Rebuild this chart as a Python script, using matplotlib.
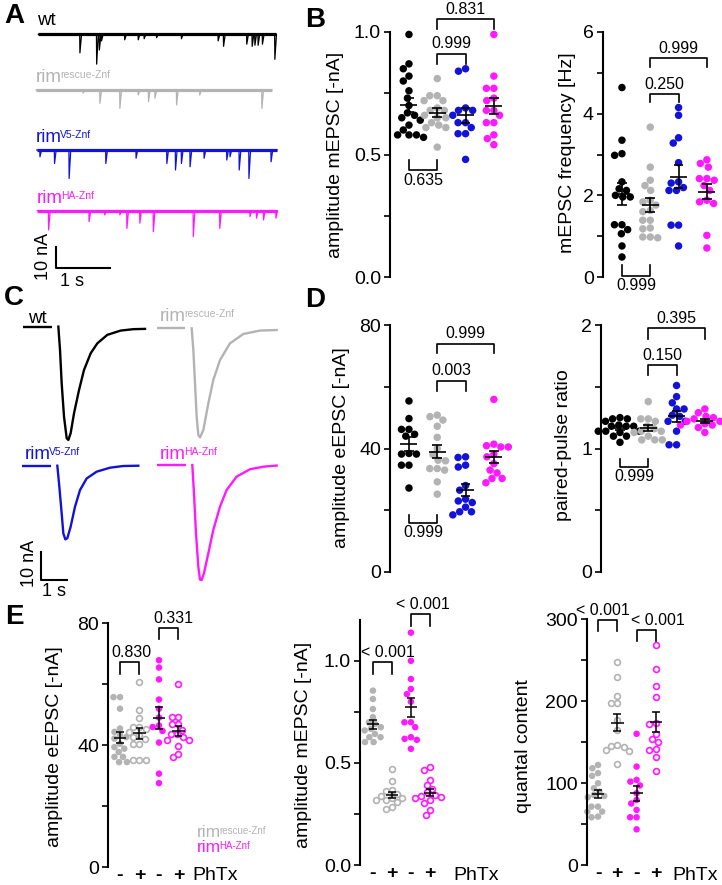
import numpy as np
import matplotlib

matplotlib.use("Agg")
import matplotlib.pyplot as plt  # noqa: E402

W, H = 722, 885
plt.rcParams["font.family"] = ["Liberation Sans", "DejaVu Sans"]

BLACK, GRAY, BLUE, MAGENTA = "#000000", "#b3b3b3", "#1212d8", "#ff19ff"

# ---------------------------------------------------------------- data ----
# A: example mEPSC traces, events as (time [s], amplitude [nA])
A_WT_T = [0.77, 1.08, 1.13, 1.17, 1.60, 1.85, 1.96, 2.19, 2.65, 3.33, 3.43, 3.86, 3.96, 4.01, 4.07, 4.15, 4.38]
A_WT_AMP = [8.5, 13.7, 7.2, 3.0, 2.5, 2.5, 2.0, 1.5, 2.0, 3.0, 5.5, 4.5, 5.5, 5.0, 5.0, 4.5, 11.5]
A_RESCUE_T = [0.83, 1.14, 1.51, 1.85, 2.04, 2.16, 2.56, 2.99, 4.14]
A_RESCUE_AMP = [1.5, 6.2, 8.5, 2.3, 5.4, 3.8, 6.9, 2.3, 8.5]
A_V5_T = [0.03, 0.30, 0.57, 1.25, 1.81, 2.38, 2.54, 2.65, 2.81, 3.07, 3.49, 3.55, 3.72, 3.90, 4.31]
A_V5_AMP = [3.1, 6.2, 13.1, 6.2, 3.8, 6.2, 9.2, 6.2, 7.7, 3.8, 4.6, 3.1, 9.2, 13.1, 5.4]
A_HA_T = [0.19, 0.94, 1.23, 1.51, 1.64, 1.88, 2.13, 2.87, 3.36, 3.92, 4.04, 4.17, 4.40]
A_HA_AMP = [8.9, 5.1, 2.0, 2.0, 8.2, 5.8, 9.7, 12.0, 8.2, 2.8, 3.5, 4.3, 3.5]

# C: example eEPSC traces (time [s], current [nA])
C_WT_T = [0, 0.064, 0.128, 0.218, 0.321, 0.385, 0.474, 0.603, 0.795, 0.987, 1.244, 1.5, 1.885, 2.397, 2.885, 3.333]
C_WT_I = [0, -8.2, -20.0, -31.8, -39.4, -40.0, -37.6, -30.6, -22.4, -15.3, -9.4, -5.9, -2.9, -1.4, -0.9, -0.8]
C_RESCUE_T = [0, 0.064, 0.128, 0.192, 0.256, 0.321, 0.449, 0.641, 0.833, 1.09, 1.474, 1.987, 2.628, 3.269]
C_RESCUE_I = [0, -7.6, -19.4, -31.2, -37.6, -38.5, -35.9, -26.5, -18.2, -11.2, -5.3, -2.0, -0.8, -0.6]
C_V5_T = [0, 0.077, 0.167, 0.231, 0.308, 0.385, 0.513, 0.679, 0.872, 1.128, 1.513, 2.026, 2.538, 3.115]
C_V5_I = [0, -7.4, -16.8, -23.9, -26.0, -25.6, -21.5, -14.5, -8.6, -4.5, -2.1, -0.7, -0.1, 0]
C_HA_T = [0, 0.064, 0.141, 0.231, 0.295, 0.359, 0.449, 0.615, 0.808, 1.064, 1.321, 1.705, 2.218, 2.731, 3.244]
C_HA_I = [0, -10.0, -24.1, -35.9, -40.4, -40.6, -38.2, -31.2, -22.9, -14.7, -8.8, -4.1, -1.5, -0.6, -0.2]

# B: mEPSC amplitude [-nA] and frequency [Hz]
B_AMP_WT = [0.99, 0.87, 0.85, 0.82, 0.80, 0.76, 0.73, 0.70, 0.66, 0.67, 0.65, 0.64, 0.62, 0.60, 0.58, 0.58, 0.57, 0.58]
B_AMP_RESCUE = [0.81, 0.74, 0.74, 0.72, 0.72, 0.69, 0.68, 0.68, 0.66, 0.65, 0.65, 0.63, 0.61, 0.61, 0.53, 0.62]
B_AMP_V5 = [0.84, 0.85, 0.68, 0.69, 0.68, 0.66, 0.63, 0.63, 0.585, 0.585, 0.61, 0.48]
B_AMP_HA = [0.99, 0.82, 0.77, 0.77, 0.73, 0.72, 0.68, 0.68, 0.66, 0.63, 0.63, 0.58, 0.565, 0.54]
B_FREQ_WT = [4.64, 3.35, 2.98, 3.02, 2.33, 2.16, 2.12, 2.0, 1.96, 1.96, 1.28, 1.28, 1.06, 1.16, 0.76, 0.49]
B_FREQ_RESCUE = [3.67, 2.69, 2.37, 2.24, 2.12, 1.88, 1.84, 1.76, 1.63, 1.6, 1.39, 1.39, 1.18, 0.96, 0.98, 0.98, 1.2]
B_FREQ_V5 = [4.15, 3.96, 3.41, 3.28, 2.8, 2.33, 2.3, 2.19, 2.12, 2.12, 1.27, 1.27, 0.76]
B_FREQ_HA = [2.87, 2.78, 2.69, 2.41, 2.41, 2.37, 2.24, 2.12, 1.88, 1.84, 1.8, 1.02, 0.71]

# D: eEPSC amplitude [-nA] and paired-pulse ratio
D_AMP_WT = [55.4, 49.7, 46.2, 46.2, 44.0, 44.6, 38.4, 38.2, 38.2, 34.6, 34.6, 27.2]
D_AMP_RESCUE = [50.8, 50.3, 49.2, 47.2, 43.6, 40.0, 38.0, 36.0, 36.2, 33.5, 33.5, 33.0, 29.2, 25.2]
D_AMP_V5 = [37.1, 37.3, 34.0, 34.6, 28.0, 26.5, 23.0, 22.5, 23.6, 21.0, 19.5, 19.5, 18.5]
D_AMP_HA = [55.9, 40.9, 41.4, 40.5, 40.5, 38.2, 37.3, 35.1, 33.0, 32.1, 30.3, 30.3, 28.9]
D_PPR_WT = [1.22, 1.24, 1.24, 1.25, 1.18, 1.18, 1.19, 1.18, 1.14, 1.14, 1.13, 1.14, 1.10, 1.10, 1.05]
D_PPR_RESCUE = [1.38, 1.24, 1.24, 1.22, 1.18, 1.16, 1.14, 1.13, 1.14, 1.07, 1.07, 1.07, 1.10]
D_PPR_V5 = [1.51, 1.42, 1.37, 1.32, 1.32, 1.26, 1.27, 1.22, 1.22, 1.14, 1.03, 1.03]
D_PPR_HA = [1.32, 1.29, 1.26, 1.25, 1.22, 1.22, 1.24, 1.19, 1.19, 1.19, 1.13, 1.20, 1.17]

# E: PhTx (- / +) for rescue and HA
E_EPSC_RESCUE = [55.7, 55.7, 51.9, 45.4, 44.3, 43.2, 42.6, 42.1, 40.4, 39.3, 38.8, 37.7, 36.1, 36.1, 34.4, 34.4]
E_EPSC_RESCUE_PHTX = [60.7, 51.6, 49.0, 45.9, 45.4, 44.3, 43.2, 42.1, 42.6, 40.4, 40.4, 35.0, 35.0, 35.0, 46.0]
E_EPSC_HA = [67.8, 65.4, 61.5, 54.9, 51.9, 49.0, 46.4, 44.6, 45.9, 40.8, 30.6, 27.5]
E_EPSC_HA_PHTX = [60.1, 49.2, 49.2, 46.8, 46.8, 43.5, 43.5, 42.6, 41.7, 41.7, 39.6, 36.1, 37.2, 45.0]
E_MINI_RESCUE = [0.854, 0.813, 0.764, 0.724, 0.691, 0.699, 0.675, 0.659, 0.667, 0.642, 0.626, 0.626, 0.602, 0.602]
E_MINI_RESCUE_PHTX = [0.468, 0.41, 0.369, 0.363, 0.35, 0.33, 0.33, 0.34, 0.317, 0.309, 0.32, 0.285, 0.276]
E_MINI_HA = [1.138, 1.0, 0.911, 0.862, 0.837, 0.80, 0.699, 0.699, 0.675, 0.618, 0.626, 0.613, 0.569]
E_MINI_HA_PHTX = [0.463, 0.48, 0.418, 0.39, 0.374, 0.333, 0.358, 0.345, 0.317, 0.304, 0.268, 0.244, 0.34, 0.33]
E_QC_RESCUE = [122, 118, 108.7, 112, 99.7, 93.6, 89.5, 85.5, 82.6, 84.2, 71.2, 71.2, 65.1, 65.1, 58.2, 59]
E_QC_RESCUE_PHTX = [248, 229, 205.5, 197.4, 197.4, 177, 146.5, 145.3, 144.5, 139.6, 140.0, 123.3, 165.0]
E_QC_HA = [160, 120, 103.8, 101.7, 97, 87.5, 79.4, 75, 67.2, 58.2, 58.2, 43.5]
E_QC_HA_PHTX = [267.8, 239, 218.6, 204.7, 173, 172, 160, 153.4, 150.6, 140.4, 141.2, 132.3, 114.8]

E_TICKS = ["-", "+", "-", "+"]

# p-values: (group a, group b, bar height, leg, label, text shift px); leg < 0 -> bracket below
B_AMP_P = [(1, 3, 1.054, 0.04, "0.831", 0), (1, 2, 0.912, 0.041, "0.999", 0), (0, 1, 0.435, -0.044, "0.635", 0)]
B_FREQ_P = [(1, 3, 5.37, 0.23, "0.999", 0), (1, 2, 4.49, 0.2, "0.250", 0), (0, 1, 0.02, -0.27, "0.999", 0)]
D_AMP_P = [(1, 3, 74, 3, "0.999", 0), (1, 2, 62, 3.3, "0.003", 0), (0, 1, 15.9, -2.5, "0.999", 0)]
D_PPR_P = [(1, 3, 1.973, 0.09, "0.395", 0), (1, 2, 1.676, 0.08, "0.150", 0), (0, 1, 0.851, -0.068, "0.999", 0)]
E_EPSC_P = [(0, 1, 67.2, 3.8, "0.830", 2), (2, 3, 78.4, 3.5, "0.331", 5)]
E_MINI_P = [(0, 1, 0.992, 0.057, "< 0.001", 5), (2, 3, 1.228, 0.057, "< 0.001", 2)]
E_QC_P = [(0, 1, 299, 14, "< 0.001", -5), (2, 3, 287, 14.3, "< 0.001", 12)]

# ----------------------------------------------------------- helpers ----
fig = plt.figure(figsize=(W / 100, H / 100), dpi=100)
ov = fig.add_axes([0, 0, 1, 1])
ov.set_xlim(0, W)
ov.set_ylim(H, 0)
ov.axis("off")


def px_axes(left, top, width, height):
    ax = fig.add_axes([left / W, 1 - (top + height) / H, width / W, height / H])
    ax.patch.set_alpha(0)
    return ax


def rim_label(x, y, sup, color, fs=13.5, sfs=7.5):
    t = ov.text(x, y, "rim", color=color, fontsize=fs, ha="left", va="baseline")
    ov.annotate(sup, xy=(1, 1), xycoords=t, xytext=(-1.5, -0.5), textcoords="offset points",
                color=color, fontsize=sfs, ha="left", va="top")


def swarm_offsets(vals, px_per_unit, d):
    ys = np.asarray(vals, float) * px_per_unit
    off = np.zeros(len(ys))
    px_, py_ = [], []
    for i in np.argsort(-ys, kind="stable"):
        y = ys[i]
        cands = [0.0]
        for a, b in zip(px_, py_):
            dy = abs(b - y)
            if dy < d:
                dx = np.sqrt(d * d - dy * dy)
                cands += [a + dx, a - dx]
        cands.sort(key=lambda c: (abs(c), c))
        for c in cands:
            if all((c - a) ** 2 + (y - b) ** 2 >= d * d - 1e-6 for a, b in zip(px_, py_)):
                off[i] = c
                break
        px_.append(off[i])
        py_.append(y)
    return off


def mini_trace(ax, x0, base, times, amps, span, color):
    xs, ys = [span[0]], [0.0]
    for t, a in sorted(zip(times, amps)):
        xs += [t - 0.004, t, t + 0.03]
        ys += [0.0, -a, 0.0]
    xs.append(span[1])
    ys.append(0.0)
    ax.plot(x0 + np.array(xs), base + np.array(ys), color=color, lw=0.9)
    ax.plot([x0 + span[0], x0 + span[1]], [base, base], color=color, lw=2.3, solid_capstyle="butt")


def dot_panel(box, ylim, major, labels, minor, groups, colors, hollow, spacing, x0,
              dot_px, size, mean_hw, cap_hw, brackets, lw=1.2):
    left, top, width, height = box
    ax = px_axes(left, top, width, height)
    ax.set_ylim(ylim)
    ax.set_xlim(x0, x0 + width / spacing)
    px_per_unit = height / (ylim[1] - ylim[0])
    for k, vals in enumerate(groups):
        vals = np.asarray(vals, float)
        x = k + swarm_offsets(vals, px_per_unit, dot_px) / spacing
        if hollow[k]:
            ax.scatter(x, vals, s=size * 0.8, facecolors="white", edgecolors=colors[k],
                       linewidths=1.2, clip_on=False, zorder=2)
        else:
            ax.scatter(x, vals, s=size, color=colors[k], edgecolors="none", clip_on=False, zorder=2)
        m = vals.mean()
        sem = vals.std(ddof=1) / np.sqrt(len(vals))
        ax.hlines(m, k - mean_hw, k + mean_hw, color="k", lw=lw, zorder=4)
        ax.vlines(k, m - sem, m + sem, color="k", lw=lw, zorder=4)
        ax.hlines([m - sem, m + sem], k - cap_hw, k + cap_hw, color="k", lw=lw, zorder=4)
    for a, b, y, leg, lab, dx in brackets:
        ax.plot([a, a, b, b], [y - leg, y, y, y - leg], color="k", lw=1.2, clip_on=False)
        up = leg > 0
        ax.annotate(lab, ((a + b) / 2, y), xytext=(dx * 0.72, 1.5 if up else -1.5), textcoords="offset points",
                    ha="center", va="bottom" if up else "top", fontsize=11.5, annotation_clip=False)
    for s in ["top", "right", "bottom"]:
        ax.spines[s].set_visible(False)
    ax.spines["left"].set_linewidth(1.5)
    ax.set_yticks(major)
    ax.set_yticklabels(labels)
    ax.set_yticks(minor, minor=True)
    ax.tick_params(axis="y", which="both", length=4.5, width=1.2, labelsize=14, pad=2)
    ax.tick_params(axis="x", length=0, labelsize=14, pad=0)
    ax.set_xticks([])
    return ax


# ------------------------------------------------------------- panel A ----
axA = px_axes(0, 0, 290, 300)
axA.set_xlim(0, 290 / 54)
axA.set_ylim(0, 300 / 2.17)
axA.axis("off")
mini_trace(axA, 0.71, 122.4, A_WT_T, A_WT_AMP, (0.0, 4.41), BLACK)
mini_trace(axA, 0.71, 96.8, A_RESCUE_T, A_RESCUE_AMP, (-0.04, 4.32), GRAY)
mini_trace(axA, 0.71, 69.1, A_V5_T, A_V5_AMP, (-0.03, 4.42), BLUE)
mini_trace(axA, 0.71, 41.2, A_HA_T, A_HA_AMP, (-0.02, 4.42), MAGENTA)
axA.plot([1.037, 1.037, 2.037], [24.6, 14.6, 14.6], color="k", lw=1.5)
ov.text(37, 25, "wt", fontsize=13.5, ha="left", va="baseline")
rim_label(36, 82, "rescue-Znf", GRAY)
rim_label(36, 142, "V5-Znf", BLUE)
rim_label(37, 203, "HA-Znf", MAGENTA)
ov.text(43, 256, "10 nA", fontsize=13, rotation=90, ha="center", va="center")
ov.text(72, 282, "1 s", fontsize=13, ha="center", va="center")

# ------------------------------------------------------------- panel C ----
axC = px_axes(0, 300, 290, 300)
axC.set_xlim(0, 290 / 26)
axC.set_ylim(0, 300 / 2.833)
axC.axis("off")
for t, i, t0, base, col in [(C_WT_T, C_WT_I, 2.244, 96.5, BLACK),
                            (C_RESCUE_T, C_RESCUE_I, 7.372, 95.9, GRAY),
                            (C_V5_T, C_V5_I, 2.205, 47.4, BLUE),
                            (C_HA_T, C_HA_I, 7.397, 47.65, MAGENTA)]:
    axC.plot(t0 + np.array(t), base + np.array(i), color=col, lw=1.7)
    axC.plot([t0 - 1.35, t0 - 0.25], [base, base], color=col, lw=1.7, solid_capstyle="butt")
axC.plot([1.564, 1.564, 2.564], [17.06, 7.06, 7.06], color="k", lw=1.5)
ov.text(28, 323, "wt", fontsize=13.5, ha="left", va="baseline")
rim_label(160, 321, "rescue-Znf", GRAY)
rim_label(25, 459, "V5-Znf", BLUE)
rim_label(160, 459, "HA-Znf", MAGENTA)
ov.text(30, 563, "10 nA", fontsize=13, rotation=90, ha="center", va="center")
ov.text(54, 592, "1 s", fontsize=13, ha="center", va="center")

# --------------------------------------------------------- panels B, D ----
cols4 = [BLACK, GRAY, BLUE, MAGENTA]
solid = [False] * 4
bd = dict(spacing=28.3, x0=-0.67, dot_px=7.5, size=29, mean_hw=0.3, cap_hw=0.17)
dot_panel((390, 32, 120, 245), (0, 1), [0, 0.5, 1], ["0.0", "0.5", "1.0"], [0.25, 0.75],
          [B_AMP_WT, B_AMP_RESCUE, B_AMP_V5, B_AMP_HA], cols4, solid, brackets=B_AMP_P, **bd)
dot_panel((603, 32, 119, 245), (0, 6), [0, 2, 4, 6], ["0", "2", "4", "6"], [1, 3, 5],
          [B_FREQ_WT, B_FREQ_RESCUE, B_FREQ_V5, B_FREQ_HA], cols4, solid, brackets=B_FREQ_P, **bd)
dot_panel((390, 325, 120, 247), (0, 80), [0, 40, 80], ["0", "40", "80"], [20, 60],
          [D_AMP_WT, D_AMP_RESCUE, D_AMP_V5, D_AMP_HA], cols4, solid, brackets=D_AMP_P, **bd)
dot_panel((601, 325, 121, 247), (0, 2), [0, 1, 2], ["0", "1", "2"], [0.5, 1.5],
          [D_PPR_WT, D_PPR_RESCUE, D_PPR_V5, D_PPR_HA], cols4, solid, brackets=D_PPR_P, **bd)
ov.text(336, 155, "amplitude mEPSC [-nA]", fontsize=14, rotation=90, ha="center", va="center")
ov.text(568, 153, "mEPSC frequency [Hz]", fontsize=14, rotation=90, ha="center", va="center")
ov.text(341, 448, "amplitude eEPSC [-nA]", fontsize=14, rotation=90, ha="center", va="center")
ov.text(563, 445, "paired-pulse ratio", fontsize=14, rotation=90, ha="center", va="center")

# ------------------------------------------------------------- panel E ----
colsE = [GRAY, GRAY, MAGENTA, MAGENTA]
openE = [False, True, False, True]
e_kw = dict(dot_px=6.5, size=22, mean_hw=0.33, cap_hw=0.2, lw=1.1)
axE1 = dot_panel((108, 623, 110, 244), (0, 80), [0, 40, 80], ["0", "40", "80"], [20, 60],
                 [E_EPSC_RESCUE, E_EPSC_RESCUE_PHTX, E_EPSC_HA, E_EPSC_HA_PHTX], colsE, openE,
                 19.5, -0.615, brackets=E_EPSC_P, **e_kw)
axE2 = dot_panel((360, 620, 110, 245), (0, 1.2), [0, 0.5, 1.0], ["0.0", "0.5", "1.0"], [0.25, 0.75],
                 [E_MINI_RESCUE, E_MINI_RESCUE_PHTX, E_MINI_HA, E_MINI_HA_PHTX], colsE, openE,
                 19.0, -0.68, brackets=E_MINI_P, **e_kw)
axE3 = dot_panel((587, 619, 110, 246), (0, 300), [0, 100, 200, 300], ["0", "100", "200", "300"],
                 [50, 150, 250],
                 [E_QC_RESCUE, E_QC_RESCUE_PHTX, E_QC_HA, E_QC_HA_PHTX], colsE, openE,
                 19.3, -0.57, brackets=E_QC_P, **e_kw)
for ax in (axE1, axE2, axE3):
    ax.set_xticks(range(4))
    ax.set_xticklabels(E_TICKS, fontweight="bold")
for x in (192, 453, 672):
    ov.text(x, 876, "PhTx", fontsize=14, ha="left", va="center")
ov.text(55, 747, "amplitude eEPSC [-nA]", fontsize=14, rotation=90, ha="center", va="center")
ov.text(303, 745, "amplitude mEPSC [-nA]", fontsize=14, rotation=90, ha="center", va="center")
ov.text(523, 746, "quantal content", fontsize=14, rotation=90, ha="center", va="center")
rim_label(197, 837, "rescue-Znf", GRAY, fs=12.5, sfs=7)
rim_label(197, 852, "HA-Znf", MAGENTA, fs=12.5, sfs=7)

# ----------------------------------------------------------- letters ----
for s, x, y in [("A", 14, 16), ("B", 315, 20), ("C", 14, 298), ("D", 315, 300), ("E", 14, 617)]:
    ov.text(x, y, s, fontsize=20, fontweight="bold", ha="center", va="center")

fig.savefig("out.png", dpi=100)
